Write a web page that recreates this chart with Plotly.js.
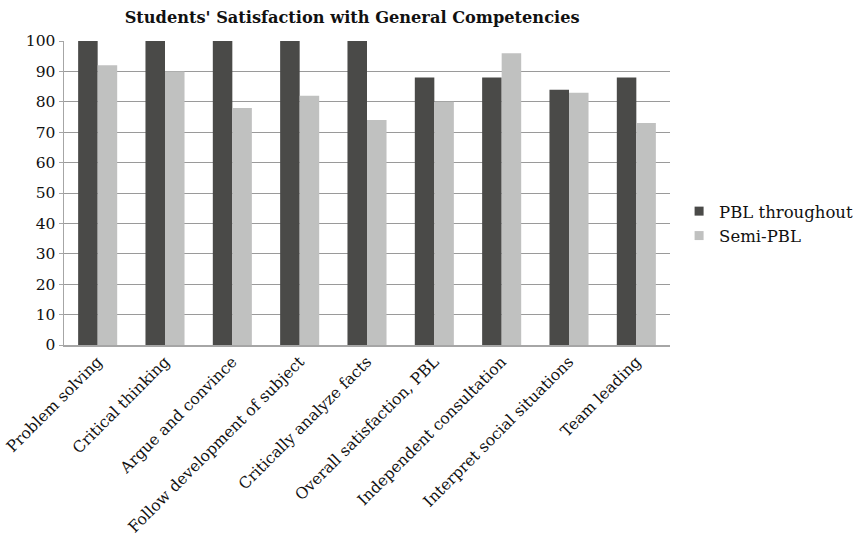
<!DOCTYPE html>
<html>
<head>
<meta charset="utf-8">
<script src="https://cdn.plot.ly/plotly-3.0.1.min.js"></script>
<style>
  html, body { margin: 0; padding: 0; background: #fff; }
  #chart { width: 863px; height: 550px; }
</style>
</head>
<body>
<div id="chart"></div>
<script>
// Competency categories
const competencies = [
  "Problem solving",
  "Critical thinking",
  "Argue and convince",
  "Follow development of subject",
  "Critically analyze facts",
  "Overall satisfaction, PBL",
  "Independent consultation",
  "Interpret social situations",
  "Team leading"
];

// Satisfaction (%) per group
const pblThroughout = [100, 100, 100, 100, 100, 88, 88, 84, 88];
const semiPbl = [92, 90, 78, 82, 74, 80, 96, 83, 73];

const seriesNames = ["PBL throughout", "Semi-PBL"];
const yTicks = [0, 10, 20, 30, 40, 50, 60, 70, 80, 90, 100];

const darkGrey = "#4a4a48";
const lightGrey = "#c0c1c0";
const serif = "DejaVu Serif";

const traces = [
  {
    type: "bar", x: competencies, y: pblThroughout, name: seriesNames[0],
    marker: { color: darkGrey }, showlegend: false, hoverinfo: "x+y"
  },
  {
    type: "bar", x: competencies, y: semiPbl, name: seriesNames[1],
    marker: { color: lightGrey }, showlegend: false, hoverinfo: "x+y"
  },
  // Legend entries with small square swatches
  {
    type: "scatter", mode: "markers", x: [null], y: [null], name: seriesNames[0],
    marker: { symbol: "square", size: 9, color: darkGrey }
  },
  {
    type: "scatter", mode: "markers", x: [null], y: [null], name: seriesNames[1],
    marker: { symbol: "square", size: 9, color: lightGrey }
  }
];

const layout = {
  width: 863,
  height: 550,
  margin: { l: 64, r: 193, t: 41, b: 205, autoexpand: false },
  paper_bgcolor: "#ffffff",
  plot_bgcolor: "#ffffff",
  font: { family: serif, size: 15, color: "#111" },
  title: {
    text: "<b>Students' Satisfaction with General Competencies</b>",
    font: { family: serif, size: 16.2, color: "#111" },
    x: 0.408, xanchor: "center", y: 0.968, yanchor: "middle"
  },
  barmode: "group",
  bargap: 0.42,
  bargroupgap: 0,
  xaxis: {
    type: "category",
    tickangle: -45,
    showgrid: false,
    showline: true,
    linecolor: "#a6a6a6",
    linewidth: 1.5,
    ticks: "",
    tickfont: { family: serif, size: 15.6, color: "#111" },
    fixedrange: true
  },
  yaxis: {
    range: [0, 100],
    tickvals: yTicks,
    showgrid: true,
    gridcolor: "#9a9a9a",
    gridwidth: 1,
    showline: true,
    linecolor: "#a6a6a6",
    linewidth: 1.5,
    ticks: "outside",
    ticklen: 4,
    tickcolor: "#a6a6a6",
    zeroline: false,
    tickfont: { family: serif, size: 15.5, color: "#111" },
    fixedrange: true
  },
  showlegend: true,
  legend: {
    x: 1.015, xanchor: "left",
    y: 0.40, yanchor: "middle",
    font: { family: serif, size: 16.5, color: "#111" },
    bgcolor: "rgba(0,0,0,0)",
    itemwidth: 30,
    tracegroupgap: 0
  }
};

Plotly.newPlot("chart", traces, layout, { displayModeBar: false, staticPlot: true });
</script>
</body>
</html>
